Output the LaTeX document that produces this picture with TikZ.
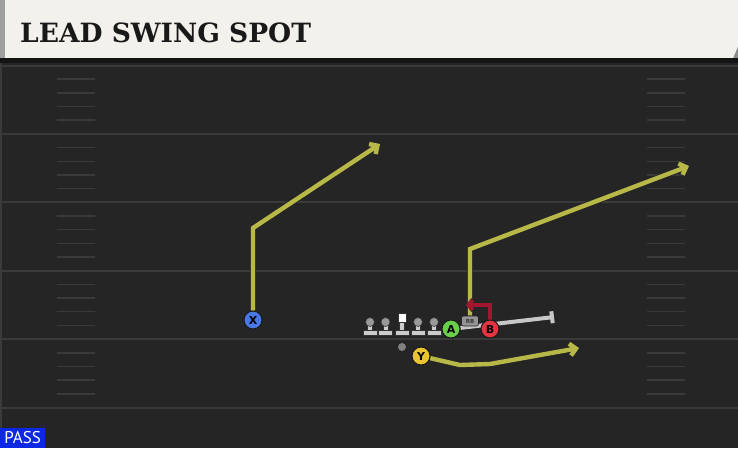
\documentclass[tikz,border=0pt]{standalone}
\usepackage{fontspec}
\usepackage{tikz}
\usetikzlibrary{calc}
\usetikzlibrary{arrows.meta}
\newfontfamily\titlefont{DejaVu Serif}
\newfontfamily\playfont{DejaVu Sans}
\newfontfamily\tagfont{PT Sans}

\definecolor{turf}{HTML}{252525}
\definecolor{chalk}{HTML}{3A3A3A}
\definecolor{banner}{HTML}{F3F1EC}
\definecolor{routeylw}{RGB}{184,184,72}
\definecolor{routered}{RGB}{162,22,48}
\definecolor{xblue}{RGB}{72,120,228}
\definecolor{agreen}{RGB}{104,208,72}
\definecolor{bred}{RGB}{228,52,64}
\definecolor{ygold}{RGB}{234,196,48}
\definecolor{passblue}{RGB}{12,40,228}

\pgfdeclarelayer{field}
\pgfdeclarelayer{paths}
\pgfsetlayers{field,paths,main}

\tikzset{
  yardline/.style={draw=chalk,line width=2pt},
  hash/.style={draw=chalk,line width=1.5pt},
  player/.style={circle,draw=black!90,line width=1pt,minimum size=18pt,inner sep=0pt,
    font=\playfont\bfseries\fontsize{11}{11}\selectfont},
  head/.style={circle,fill=black!40,draw=black!80,line width=.6pt,minimum size=9pt,inner sep=0pt},
  snap/.style={rectangle,fill=white,draw=black!80,line width=.6pt,minimum width=8pt,minimum height=9pt,inner sep=0pt},
  stem/.style={fill=black!20,draw=black!80,line width=.6pt},
  rbtag/.style={rectangle,rounded corners=2pt,fill=black!42,draw=black!85,line width=.6pt,
    minimum width=17pt,minimum height=10pt,inner sep=0pt,font=\playfont\bfseries\fontsize{5.5}{5.5}\selectfont,text=black!80},
  route/.style={draw=routeylw,line width=4.4pt,-{Straight Barb[length=6pt,width=12pt]},
    preaction={draw=black!85,line width=6.2pt,-{Straight Barb[length=6pt,width=12pt]}}},
  redroute/.style={draw=routered,line width=4pt,-{Straight Barb[length=4pt,width=10pt]},
    preaction={draw=black!85,line width=5.8pt,-{Straight Barb[length=4pt,width=10pt]}}},
  block/.style={draw=black!22,line width=4pt,-{Bar[width=12pt]},
    preaction={draw=black!85,line width=5.6pt,-{Bar[width=13pt]}}}
}

\begin{document}
\begin{tikzpicture}[x=1pt,y=-1pt]
\useasboundingbox (0,0) rectangle (738,448);

\begin{pgfonlayer}{field}
\fill[turf] (0,58) rectangle (738,448);
\fill[chalk] (0,58) rectangle (2,448);
\foreach \yl in {0,...,5}{
  \pgfmathsetmacro\ly{65.5+68.4*\yl}
  \draw[yardline] (0,\ly) -- (738,\ly);
}
\foreach \yl in {0,...,4}{
  \foreach \k in {1,...,4}{
    \pgfmathsetmacro\hy{65.5+68.4*\yl+13.68*\k}
    \draw[hash] (57,\hy) -- (95,\hy);
    \draw[hash] (647,\hy) -- (685,\hy);
  }
}
\fill[black!45] (733,58) -- (738,46) -- (738,58) -- cycle;
\fill[banner] (0,0) -- (738,0) -- (738,46) -- (733,58) -- (0,58) -- cycle;
\fill[black!38] (0,0) rectangle (5,58);
\fill[black!92] (0,58) rectangle (738,62.5);
\end{pgfonlayer}

\node[anchor=base west,inner sep=0pt,text=black!90,font=\titlefont\bfseries\fontsize{26.5}{26.5}\selectfont] (title) at (20,42) {LEAD SWING SPOT};
\node[anchor=south west,fill=passblue,minimum width=45pt,minimum height=20pt,inner sep=0pt,
  text=white,font=\tagfont\fontsize{17}{17}\selectfont] (play) at (0,448) {PASS};

\foreach \nm/\px in {lt/370,lg/385.5,rg/418,rt/434}
  \node[head] (\nm) at (\px,322) {};
\node[snap] (ctr) at (402,317.5) {};

\node[player,fill=xblue] (X) at (253,320) {X};
\node[player,fill=agreen] (A) at (451,329) {A};
\node[player,fill=bred] (B) at (490,329) {B};
\node[player,fill=ygold] (Y) at (421,356) {Y};
\node[rbtag] (RB) at (470,321) {RB};
\node[circle,fill=black!50,minimum size=8pt,inner sep=0pt] (ball) at (402,347) {};

\coordinate (xbrk) at (253,228);
\coordinate (xend) at (380,144);
\coordinate (rbbrk) at (470,249);
\coordinate (rbend) at (689,166);
\coordinate (yb1) at (460,365);
\coordinate (yb2) at (490,364);
\coordinate (yend) at (579,348);
\coordinate (bup) at (490,305);
\coordinate (bend) at (466,305);
\coordinate (blk) at (554,317);

\begin{pgfonlayer}{paths}
\foreach \nm in {lt,lg,ctr,rg,rt}{
  \fill[stem] ($(\nm.center)+(-2.5,0)$) rectangle ($(\nm.center |- 0,330)+(2.5,0)$);
  \fill[stem] ($(\nm.center |- 0,330)+(-7,0)$) rectangle ($(\nm.center |- 0,335.5)+(7,0)$);
}
\draw[block] (A) -- (blk);
\draw[route] (X) -- (xbrk) -- (xend);
\draw[route] (RB) -- (rbbrk) -- (rbend);
\draw[route] (Y) -- (yb1) -- (yb2) -- (yend);
\draw[redroute] (B) -- (bup) -- (bend);
\end{pgfonlayer}

\end{tikzpicture}
\end{document}
